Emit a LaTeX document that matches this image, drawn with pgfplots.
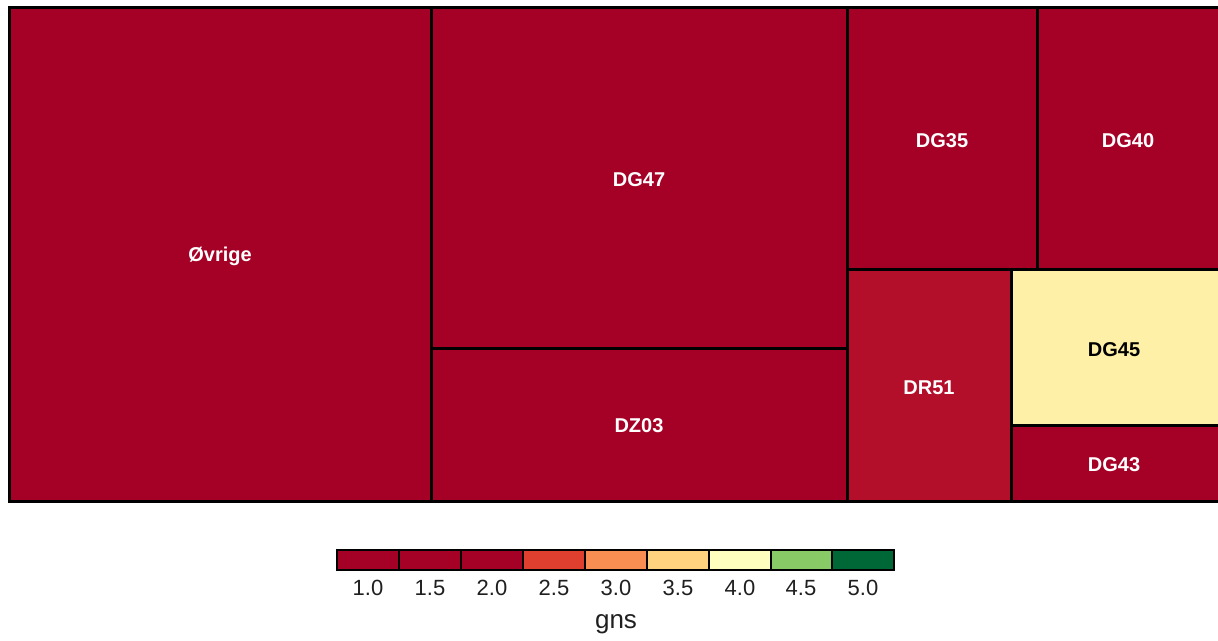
\documentclass[border=0pt]{standalone}
\usepackage{pgfplots}
\pgfplotsset{compat=1.18}
\usepackage{fontspec}
\setmainfont{Liberation Sans}
\definecolor{c1}{HTML}{A50026}
\definecolor{cR}{HTML}{B30F2A}
\definecolor{cY}{HTML}{FEF0A6}
\definecolor{l4}{HTML}{DE3F2E}
\definecolor{l5}{HTML}{F98E52}
\definecolor{l6}{HTML}{FED27F}
\definecolor{l7}{HTML}{FEFEBE}
\definecolor{l8}{HTML}{88CB66}
\definecolor{l9}{HTML}{006837}
\tikzset{lbl/.style={font=\bfseries\fontsize{10}{12}\selectfont, text=white},
  tl/.style={font=\fontsize{11}{13}\selectfont, text=black!88}}
\begin{document}
\begin{tikzpicture}
\begin{axis}[
  width=609pt, height=319.5pt, scale only axis,
  xmin=0, xmax=1218, ymin=0, ymax=639, y dir=reverse,
  axis lines=none, ticks=none, clip=false,
  every axis plot/.append style={draw=black, line width=1.5pt},
]
\path (axis cs:0,0) rectangle (axis cs:1218,639);
% treemap cells
\addplot[fill=c1] coordinates {(9,8)(431,8)(431,501)(9,501)} -- cycle;
\addplot[fill=c1] coordinates {(431,8)(847,8)(847,348)(431,348)} -- cycle;
\addplot[fill=c1] coordinates {(431,348)(847,348)(847,501)(431,501)} -- cycle;
\addplot[fill=c1] coordinates {(847,8)(1037,8)(1037,270)(847,270)} -- cycle;
\addplot[fill=c1, overlay] coordinates {(1037,8)(1221,8)(1221,270)(1037,270)} -- cycle;
\addplot[fill=cR] coordinates {(847,270)(1011,270)(1011,501)(847,501)} -- cycle;
\addplot[fill=cY, overlay] coordinates {(1011,270)(1221,270)(1221,425)(1011,425)} -- cycle;
\addplot[fill=c1, overlay] coordinates {(1011,425)(1221,425)(1221,501)(1011,501)} -- cycle;
\node[lbl] at (axis cs:220,256) {Øvrige};
\node[lbl] at (axis cs:639,180) {DG47};
\node[lbl] at (axis cs:639,426) {DZ03};
\node[lbl] at (axis cs:942,141) {DG35};
\node[lbl] at (axis cs:1128,141) {DG40};
\node[lbl] at (axis cs:929,388) {DR51};
\node[lbl, text=black] at (axis cs:1114,350) {DG45};
\node[lbl] at (axis cs:1114,465) {DG43};
% legend bar
\addplot[fill=c1, line width=0.6pt] coordinates {(337,550)(399,550)(399,570)(337,570)} -- cycle;
\addplot[fill=c1, line width=0.6pt] coordinates {(399,550)(461,550)(461,570)(399,570)} -- cycle;
\addplot[fill=c1, line width=0.6pt] coordinates {(461,550)(523,550)(523,570)(461,570)} -- cycle;
\addplot[fill=l4, line width=0.6pt] coordinates {(523,550)(585,550)(585,570)(523,570)} -- cycle;
\addplot[fill=l5, line width=0.6pt] coordinates {(585,550)(647,550)(647,570)(585,570)} -- cycle;
\addplot[fill=l6, line width=0.6pt] coordinates {(647,550)(709,550)(709,570)(647,570)} -- cycle;
\addplot[fill=l7, line width=0.6pt] coordinates {(709,550)(771,550)(771,570)(709,570)} -- cycle;
\addplot[fill=l8, line width=0.6pt] coordinates {(771,550)(832,550)(832,570)(771,570)} -- cycle;
\addplot[fill=l9, line width=0.6pt] coordinates {(832,550)(894,550)(894,570)(832,570)} -- cycle;
\draw[black, line width=1.2pt] (axis cs:337,550) rectangle (axis cs:894,570);
\node[tl] at (axis cs:368,588) {1.0};
\node[tl] at (axis cs:430,588) {1.5};
\node[tl] at (axis cs:492,588) {2.0};
\node[tl] at (axis cs:554,588) {2.5};
\node[tl] at (axis cs:616,588) {3.0};
\node[tl] at (axis cs:678,588) {3.5};
\node[tl] at (axis cs:740,588) {4.0};
\node[tl] at (axis cs:801,588) {4.5};
\node[tl] at (axis cs:863,588) {5.0};
\node[font=\fontsize{13}{15}\selectfont, text=black!88] at (axis cs:616,624) {gns};
\end{axis}
\end{tikzpicture}
\end{document}
